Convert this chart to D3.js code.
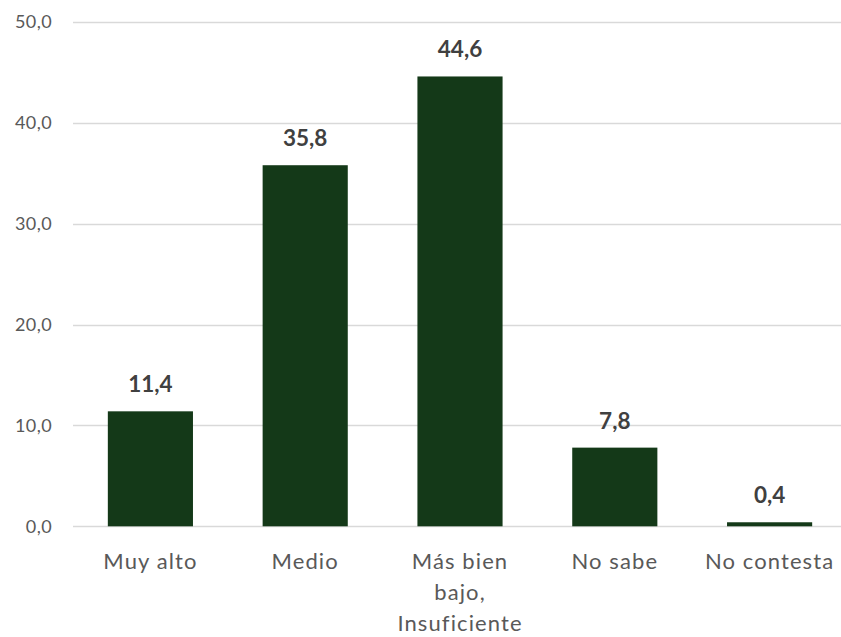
<!DOCTYPE html>
<html><head><meta charset="utf-8">
<script src="https://cdn.jsdelivr.net/npm/d3@7"></script>
<style>body{margin:0;background:#fff}</style>
</head><body>
<script>
const categories = ["Muy alto","Medio","Más bien bajo, Insuficiente","No sabe","No contesta"];
const categoryLines = [["Muy alto"],["Medio"],["Más bien","bajo,","Insuficiente"],["No sabe"],["No contesta"]];
const values = [11.4, 35.8, 44.6, 7.8, 0.4];
const yTicks = [0,10,20,30,40,50];

const W=841,H=637;
const svg=d3.select("body").append("svg").attr("width",W).attr("height",H);
const x=d3.scaleBand().domain(categories).range([73,847]).paddingInner(0.45).paddingOuter(0.225);
const y=d3.scaleLinear().domain([0,50]).range([526.3,22]);
const font="Lato, 'Open Sans', sans-serif";
const fmt=v=>d3.format(".1f")(v).replace(".",",");

svg.append("g").selectAll("line").data(yTicks).join("line")
  .attr("x1",73).attr("x2",847).attr("y1",d=>Math.round(y(d))+0.5).attr("y2",d=>Math.round(y(d))+0.5)
  .attr("stroke","#d9d9d9").attr("stroke-width",1.3);

const yAxis=d3.axisLeft(y).tickValues(yTicks).tickFormat(fmt).tickSize(0).tickPadding(0);
const ga=svg.append("g").attr("transform","translate(52,0)").call(yAxis);
ga.select(".domain").remove();
ga.selectAll("text").attr("font-family",font).attr("font-size",18).attr("fill","#595959").attr("letter-spacing",0.4);

svg.append("g").selectAll("rect").data(values).join("rect")
  .attr("x",(d,i)=>x(categories[i])).attr("width",x.bandwidth())
  .attr("y",d=>y(d)).attr("height",d=>y(0)-y(d)).attr("fill","#143918");

svg.append("g").selectAll("text").data(values).join("text")
  .attr("x",(d,i)=>x(categories[i])+x.bandwidth()/2).attr("y",d=>y(d)-19)
  .attr("text-anchor","middle").attr("font-family",font).attr("font-weight","bold")
  .attr("font-size",22.5).attr("fill","#404040").text(fmt);

const xl=svg.append("g").selectAll("text").data(categories).join("text")
  .attr("x",d=>x(d)+x.bandwidth()/2).attr("y",569)
  .attr("text-anchor","middle").attr("font-family",font).attr("font-size",22)
  .attr("fill","#595959").attr("letter-spacing",1.1);
xl.each(function(d,i){
  const t=d3.select(this);
  categoryLines[i].forEach((ln,j)=>t.append("tspan").attr("x",x(d)+x.bandwidth()/2).attr("y",569+j*31).text(ln));
});
</script>
</body></html>
